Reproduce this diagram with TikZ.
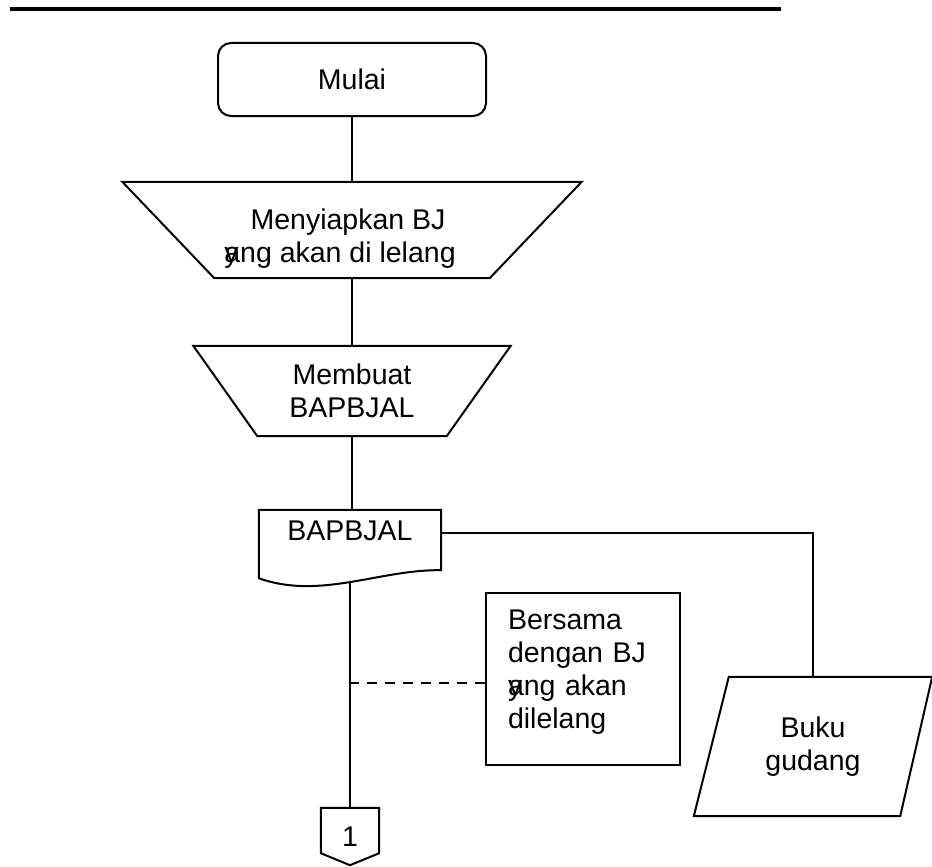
\documentclass[tikz,border=0pt]{standalone}
\usepackage{fontspec}
\setmainfont{Liberation Sans}
\usetikzlibrary{calc}

\begin{document}
\begin{tikzpicture}[x=1pt,y=-1pt,
	line/.style={line width=2pt},
	dashline/.style={line width=2pt, dash pattern=on 10pt off 8pt},
	txt/.style={font=\fontsize{28.5pt}{33pt}\selectfont, align=center, inner sep=0pt},
	shapebox/.style={inner sep=0pt}]

	\useasboundingbox (0,0) rectangle (932,867);

	% heading rule
	\draw[line width=4pt] (10,9) -- (781,9);

	% start
	\node[txt, draw, line, rounded corners=13pt, minimum width=268pt, minimum height=73pt] (start) at (352,79.5) {Mulai};

	% manual operation 1
	\node[shapebox, minimum width=459pt, minimum height=96pt] (prep) at (352,230) {};
	\draw[line] (prep.north west) -- (prep.north east) -- ([xshift=-92pt]prep.south east) -- ([xshift=92pt]prep.south west) -- cycle;
	\node[txt] (preptext) at ([xshift=-4pt,yshift=-8.5pt]prep) {Menyiapkan BJ\\\rlap{y}ang akan di lelang\kern16pt};

	% manual operation 2
	\node[txt, minimum width=317pt, minimum height=90pt] (make) at (352,391) {Membuat\\BAPBJAL};
	\draw[line] (make.north west) -- (make.north east) -- ([xshift=-64pt]make.south east) -- ([xshift=64pt]make.south west) -- cycle;

	% document
	\node[shapebox, minimum width=182pt, minimum height=72pt] (doc) at (350,546) {};
	\draw[line] ([yshift=4pt]doc.south west) -- (doc.north west) -- (doc.north east) -- ([yshift=12pt]doc.south east)
		.. controls ([xshift=30pt,yshift=13pt]doc.south) and ([xshift=-30pt,yshift=-18pt]doc.south) .. ([yshift=4pt]doc.south west) -- cycle;
	\node[txt] (doctext) at ([yshift=15pt]doc) {BAPBJAL};

	% store
	\node[txt, minimum width=238pt, minimum height=139pt] (store) at (813,746.5) {Buku\\gudang};
	\draw[line] ([xshift=35pt]store.north west) -- (store.north east) -- ([xshift=-32pt]store.south east) -- (store.south west) -- cycle;

	% note
	\node[shapebox, draw, line, minimum width=194pt, minimum height=172pt] (note) at (583,679) {};
	\node[txt, align=left, text width=150pt] (notetext) at ([yshift=6.5pt]note) {Bersama\\dengan BJ\\\leavevmode\rlap{y}ang akan\\dilelang};

	% off-page connector
	\node[txt, minimum width=58pt, minimum height=57pt] (conn) at (350,836.5) {1};
	\draw[line] (conn.north west) -- (conn.north east) -- ([yshift=12pt]conn.south east) -- (conn.south) -- ([yshift=12pt]conn.south west) -- cycle;

	% flow lines
	\draw[line] (start) -- (prep);
	\draw[line] (prep) -- (make);
	\draw[line] (make.south) -- (make.south |- doc.north);
	\draw[line] (doc.south) -- (conn.north);
	\draw[line] ($(doc.north east)+(0,23)$) -| (store.north);
	\draw[dashline] ($(note.west)+(0,4)$) -- ($(doc.south |- note.west)+(0,4)$);

\end{tikzpicture}
\end{document}
